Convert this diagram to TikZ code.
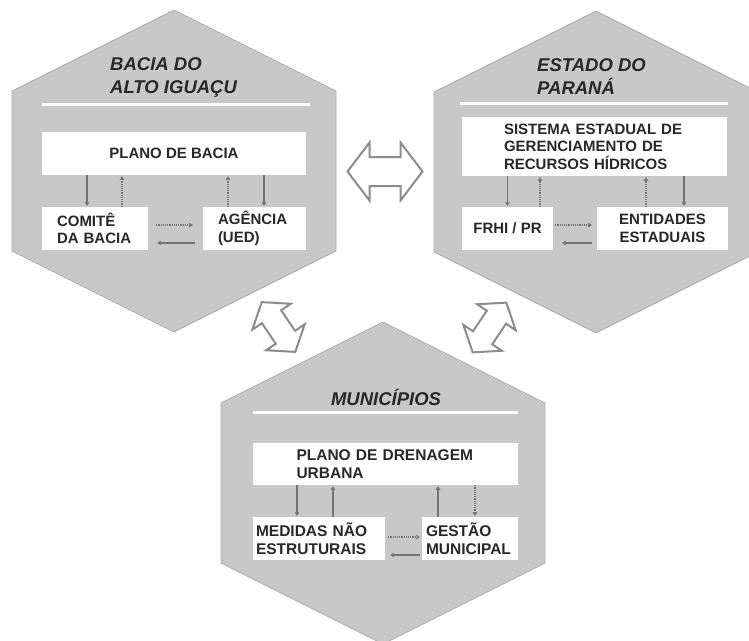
\documentclass[tikz,border=0pt]{standalone}
\usepackage{fontspec}
\setmainfont{Liberation Sans}
\usetikzlibrary{arrows.meta,calc}

\definecolor{hexgray}{RGB}{200,200,200}
\definecolor{edgegray}{RGB}{172,172,172}
\definecolor{linkgray}{RGB}{115,115,115}
\definecolor{biggray}{RGB}{140,140,140}
\definecolor{txtgray}{RGB}{40,40,40}

\begin{document}
\begin{tikzpicture}[x=1pt, y=-1pt,
  hex/.style={fill=hexgray, draw=edgegray, line width=0.8pt},
  title node/.style={font=\bfseries\itshape\fontsize{18.5}{23}\selectfont, text=txtgray, align=left, inner sep=0pt},
  box node/.style={fill=white, text=txtgray, font=\bfseries\fontsize{15}{17.5}\selectfont, minimum height=43pt, inner ysep=0pt, align=left},
  big text/.style={font=\bfseries\fontsize{15.5}{18}\selectfont},
  rule/.style={draw=white, line width=3pt},
  flow/.style={draw=linkgray, line width=1.2pt, -{Stealth[length=4pt,width=5pt]}, shorten >=1pt},
  dot flow/.style={flow, densely dotted},
  twoway/.pic={\draw[draw=biggray, fill=white, line width=2pt] (-37.5,0) -- (-15.5,-29) -- (-15.5,-14.5) -- (15.5,-14.5) -- (15.5,-29) -- (37.5,0) -- (15.5,29) -- (15.5,14.5) -- (-15.5,14.5) -- (-15.5,29) -- cycle;}]

\clip (0,0) rectangle (749,640);
\fill[white] (0,0) rectangle (749,640);

\coordinate (bacia) at (174,171);
\coordinate (estado) at (596,172);
\coordinate (munic) at (383,483);
\foreach \c in {bacia,estado,munic}
  \draw[hex] (\c) +(0,-161) -- +(162,-80) -- +(162,80) -- +(0,161) -- +(-162,80) -- +(-162,-80) -- cycle;

\pic at ($(bacia)!0.5!(estado)$) {twoway};
\pic[rotate=-56, scale=0.8] at ($(bacia)!0.5!(munic)$) {twoway};
\pic[rotate=56, scale=0.8] at ($(estado)!0.5!(munic)$) {twoway};

\node[title node, anchor=west] (t1) at (110,77.5) {BACIA DO\\ALTO IGUAÇU};
\node[title node, anchor=west] (t2) at (537,77) {ESTADO DO\\PARANÁ};
\node[title node] (t3) at (386,397) {MUNICÍPIOS};
\draw[rule] (42,104) -- (310,104);
\draw[rule] (460,103) -- (728,103);
\draw[rule] (253,412) -- (518,412);

\node[box node, minimum width=264pt, align=center] (plano) at (174,153.5) {PLANO DE BACIA};
\node[box node, text width=76pt, inner xsep=15pt] (comite) at (95,228.5) {COMITÊ\\DA BACIA};
\node[box node, text width=73pt, inner xsep=15pt] (agencia) at (254.5,228.5) {AGÊNCIA\\(UED)};

\node[box node, minimum height=59pt, text width=181pt, inner xsep=42pt] (sistema) at (594.5,146.5) {SISTEMA ESTADUAL DE\\GERENCIAMENTO DE\\RECURSOS HÍDRICOS};
\node[box node, minimum width=91pt, align=center] (frhi) at (507.5,228.5) {FRHI / PR};
\node[box node, minimum width=131pt, align=center] (entidades) at (662.5,228.5) {ENTIDADES\\ESTADUAIS};

\node[box node, big text, minimum height=42pt, text width=178pt, inner xsep=43.5pt] (drenagem) at (385.5,464) {PLANO DE DRENAGEM\\URBANA};
\node[box node, big text, text width=126pt, inner xsep=3pt] (medidas) at (319,538.5) {MEDIDAS NÃO\\ESTRUTURAIS};
\node[box node, big text, text width=88pt, inner xsep=4pt] (gestao) at (470,538.5) {GESTÃO\\MUNICIPAL};

\draw[flow] ([xshift=-8pt]comite.north |- plano.south) -- ([xshift=-8pt]comite.north);
\draw[dot flow] ([xshift=27pt]comite.north) -- ([xshift=27pt]comite.north |- plano.south);
\draw[dot flow] ([xshift=-26.5pt]agencia.north) -- ([xshift=-26.5pt]agencia.north |- plano.south);
\draw[flow] ([xshift=9.5pt]agencia.north |- plano.south) -- ([xshift=9.5pt]agencia.north);
\draw[dot flow, shorten <=8pt, shorten >=10pt] ([yshift=3.5pt]comite.east) -- ([yshift=3.5pt]agencia.west);
\draw[flow, shorten <=8pt, shorten >=9pt] ([yshift=-14.5pt]agencia.west) -- ([yshift=-14.5pt]comite.east);

\draw[flow] (frhi.north |- sistema.south) -- (frhi.north);
\draw[dot flow] ([xshift=32.5pt]frhi.north) -- ([xshift=32.5pt]frhi.north |- sistema.south);
\draw[dot flow] ([xshift=-16.5pt]entidades.north) -- ([xshift=-16.5pt]entidades.north |- sistema.south);
\draw[flow] ([xshift=21.5pt]entidades.north |- sistema.south) -- ([xshift=21.5pt]entidades.north);
\draw[dot flow, shorten <=2pt, shorten >=5pt] ([yshift=3.5pt]frhi.east) -- ([yshift=3.5pt]entidades.west);
\draw[flow, shorten <=5pt, shorten >=9pt] ([yshift=-14.5pt]entidades.west) -- ([yshift=-14.5pt]frhi.east);

\draw[flow] ([xshift=-22pt]medidas.north |- drenagem.south) -- ([xshift=-22pt]medidas.north);
\draw[flow] ([xshift=14pt]medidas.north) -- ([xshift=14pt]medidas.north |- drenagem.south);
\draw[flow] ([xshift=-32pt]gestao.north) -- ([xshift=-32pt]gestao.north |- drenagem.south);
\draw[dot flow] ([xshift=5pt]gestao.north |- drenagem.south) -- ([xshift=5pt]gestao.north);
\draw[dot flow, shorten <=3pt, shorten >=2pt] ([yshift=1.5pt]medidas.east) -- ([yshift=1.5pt]gestao.west);
\draw[flow, shorten <=2pt, shorten >=5pt] ([yshift=-16.5pt]gestao.west) -- ([yshift=-16.5pt]medidas.east);
\end{tikzpicture}
\end{document}
